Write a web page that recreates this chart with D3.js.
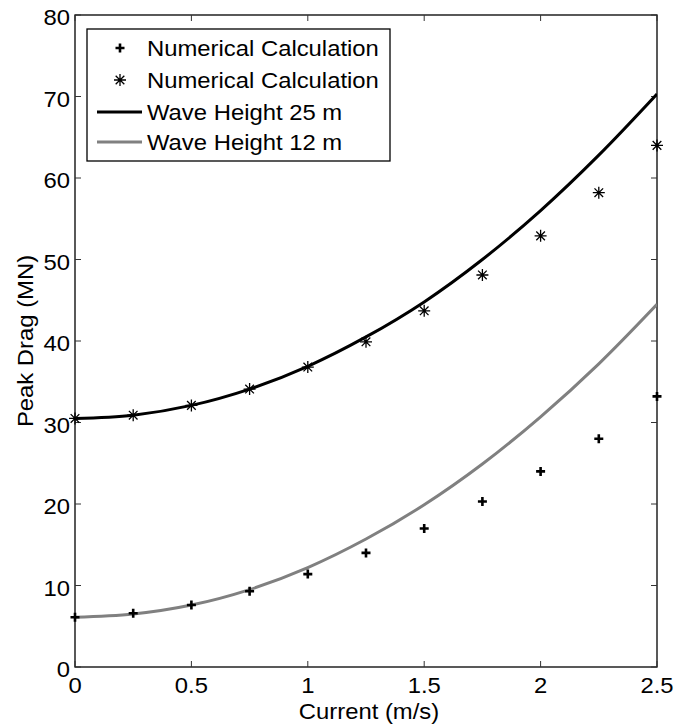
<!DOCTYPE html>
<html><head><meta charset="utf-8">
<script src="https://cdn.jsdelivr.net/npm/d3@7"></script>
<style>body{margin:0;background:#fff}svg{display:block}text{font-family:"Liberation Sans",Arial,sans-serif;fill:#000}</style>
</head><body><svg id="c" width="675" height="724"></svg>
<script>
const currents = [0,0.25,0.5,0.75,1,1.25,1.5,1.75,2,2.25,2.5];
const calc12 = [6.1,6.6,7.6,9.3,11.4,14.0,17.0,20.3,24.0,28.0,33.2];
const calc25 = [30.5,30.9,32.1,34.1,36.8,39.9,43.7,48.1,52.9,58.2,64.0];
const wave25 = [30.5,30.9,32.1,34.1,36.9,40.5,44.8,50.0,56.0,62.8,70.3];
const wave12 = [6.1,6.5,7.6,9.5,12.2,15.7,19.9,24.9,30.7,37.2,44.5];
const xTicks = [0,0.5,1,1.5,2,2.5];
const xTickLabels = ["0","0.5","1","1.5","2","2.5"];
const yTicks = [0,10,20,30,40,50,60,70,80];
const legendLabels = ["Numerical Calculation","Numerical Calculation","Wave Height 25 m","Wave Height 12 m"];

const L=75,R=657,T=15,B=667, FS=22.5, SX=1.06;
const svg=d3.select("#c");
const x=d3.scaleLinear().domain([0,2.5]).range([L,R]);
const y=d3.scaleLinear().domain([0,80]).range([B,T]);

function txt(g,px,py,s,anchor){
  return g.append("text").attr("transform",`translate(${px},${py}) scale(${SX},1)`)
    .attr("text-anchor",anchor).attr("font-size",FS).text(s);
}
svg.append("defs").append("clipPath").attr("id","clip").append("rect")
  .attr("x",L).attr("y",T).attr("width",R-L).attr("height",B-T);

// axes box & ticks
const ax=svg.append("g");
ax.append("rect").attr("x",L).attr("y",T).attr("width",R-L).attr("height",B-T)
  .attr("fill","none").attr("stroke","#000").attr("stroke-width",1.3);
xTicks.forEach((v,i)=>{
  ax.append("line").attr("x1",x(v)).attr("x2",x(v)).attr("y1",B).attr("y2",B-6).attr("stroke","#333").attr("stroke-width",1);
  ax.append("line").attr("x1",x(v)).attr("x2",x(v)).attr("y1",T).attr("y2",T+6).attr("stroke","#333").attr("stroke-width",1);
  txt(ax,x(v),693,xTickLabels[i],"middle");
});
yTicks.forEach(v=>{
  ax.append("line").attr("x1",L).attr("x2",L+6).attr("y1",y(v)).attr("y2",y(v)).attr("stroke","#333").attr("stroke-width",1);
  ax.append("line").attr("x1",R).attr("x2",R-6).attr("y1",y(v)).attr("y2",y(v)).attr("stroke","#333").attr("stroke-width",1);
  txt(ax,L-5,y(v)+10,String(v),"end");
});
txt(ax,(L+R)/2+3,719,"Current (m/s)","middle");
ax.append("text").attr("transform",`translate(33,${(T+B)/2}) rotate(-90) scale(${SX},1)`)
  .attr("text-anchor","middle").attr("font-size",FS).text("Peak Drag (MN)");

// lines
const line=d3.line().x((d,i)=>x(currents[i])).y(d=>y(d)).curve(d3.curveCatmullRom.alpha(0.5));
const pg=svg.append("g").attr("clip-path","url(#clip)");
pg.append("path").attr("d",line(wave12)).attr("fill","none").attr("stroke","#808080").attr("stroke-width",3);
pg.append("path").attr("d",line(wave25)).attr("fill","none").attr("stroke","#000").attr("stroke-width",3);

// markers
function plus(g,cx,cy){
  g.append("path").attr("d",`M${cx-4.5},${cy}H${cx+4.5}M${cx},${cy-4.5}V${cy+4.5}`)
    .attr("stroke","#000").attr("stroke-width",2.6).attr("fill","none");
}
function star(g,cx,cy){
  const r=6, d=r*0.72;
  g.append("path").attr("d",`M${cx-r},${cy}H${cx+r}M${cx},${cy-r}V${cy+r}M${cx-d},${cy-d}L${cx+d},${cy+d}M${cx-d},${cy+d}L${cx+d},${cy-d}`)
    .attr("stroke","#000").attr("stroke-width",1.3).attr("fill","none");
}
const mg=svg.append("g");
calc12.forEach((v,i)=>plus(mg,x(currents[i]),y(v)));
calc25.forEach((v,i)=>star(mg,x(currents[i]),y(v)));

// legend
const lg=svg.append("g");
lg.append("rect").attr("x",87).attr("y",29).attr("width",303).attr("height",132)
  .attr("fill","#fff").attr("stroke","#000").attr("stroke-width",1.3);
const rows=[48,80,112,142];
plus(lg,120,rows[0]);
star(lg,120,rows[1]);
lg.append("line").attr("x1",97).attr("x2",142).attr("y1",rows[2]).attr("y2",rows[2]).attr("stroke","#000").attr("stroke-width",3);
lg.append("line").attr("x1",97).attr("x2",142).attr("y1",rows[3]).attr("y2",rows[3]).attr("stroke","#808080").attr("stroke-width",3);
legendLabels.forEach((s,i)=>txt(lg,147,rows[i]+8,s,"start"));
</script></body></html>
